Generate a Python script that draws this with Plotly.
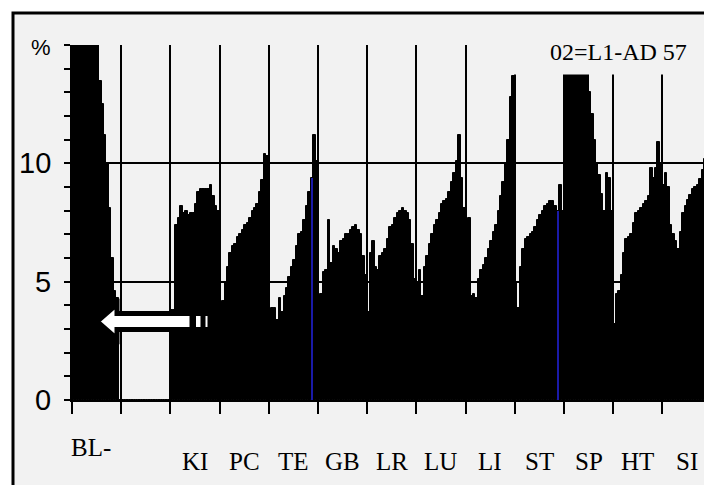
import plotly.graph_objects as go

# ---- data (percent per bar, 20 bars per category) ----
categories = ["BL-", "", "KI", "PC", "TE", "GB", "LR", "LU", "LI", "ST", "SP", "HT", "SI"]

bl = [15, 15, 15, 15, 15, 15, 15, 15, 15, 15, 15, 13.5, 12.5, 11.2, 10.0, 8.1, 6.0, 4.6, 4.3, 0]
blank = [0] * 20
ki = [3.8, 3.8, 7.4, 7.7, 8.2, 7.9, 8.0, 7.8, 7.9, 7.9, 8.3, 8.8, 8.9, 8.9, 8.9, 8.9, 9.1, 8.6, 8.2, 8.0]
pc = [3.7, 4.2, 5.0, 5.6, 6.2, 6.5, 6.6, 6.9, 7.0, 7.2, 7.4, 7.5, 7.7, 8.0, 8.1, 8.3, 8.8, 9.3, 10.4, 10.3]
te = [3.3, 3.9, 3.9, 3.4, 4.3, 3.7, 4.4, 4.75, 5.2, 5.6, 5.9, 6.5, 7.0, 7.1, 7.6, 8.2, 8.8, 9.4, 11.2, 10.1]
gb = [3.7, 4.5, 5.4, 5.5, 7.6, 5.8, 6.5, 6.4, 6.2, 6.7, 6.8, 7.0, 7.0, 7.2, 7.3, 7.4, 7.2, 7.0, 6.1, 5.3]
lr = [3.7, 6.2, 6.7, 5.6, 5.5, 6.1, 6.2, 6.4, 6.8, 7.3, 7.4, 7.7, 7.9, 8.0, 8.1, 8.0, 7.9, 7.6, 6.6, 5.1]
lu = [4.9, 5.5, 4.4, 5.6, 6.1, 6.6, 7.0, 7.4, 7.6, 7.9, 8.3, 8.4, 8.5, 8.8, 9.2, 9.6, 10.1, 11.2, 9.4, 8.1]
li = [2.8, 7.7, 4.4, 4.5, 4.3, 5.1, 5.5, 5.7, 6.0, 6.4, 6.7, 7.1, 7.4, 8.0, 8.6, 9.2, 10.0, 11.0, 12.8, 13.7]
st = [5.0, 3.9, 5.6, 6.4, 6.8, 6.9, 7.0, 7.1, 7.3, 7.6, 7.8, 8.0, 8.2, 8.3, 8.4, 8.4, 8.2, 8.0, 9.1, 8.0]
sp = [15, 15, 15, 15, 15, 15, 15, 15, 15, 15, 13.0, 12.1, 11.0, 10.0, 9.5, 8.7, 8.0, 9.6, 9.4, 8.0]
ht = [3.2, 4.5, 4.6, 5.3, 6.2, 6.8, 6.9, 7.0, 7.5, 7.9, 8.0, 8.1, 8.3, 8.4, 8.6, 9.8, 9.4, 9.8, 10.9, 10.0]
si = [9.1, 9.6, 9.0, 7.4, 7.0, 6.7, 6.4, 7.1, 7.9, 8.2, 8.45, 8.65, 8.9, 9.0, 9.1, 9.35, 9.7, 10.2, 10.6, 11.0]

groups = [bl, blank, ki, pc, te, gb, lr, lu, li, st, sp, ht, si]
highlighted = {"TE": 17, "ST": 17}   # bar index drawn with a thin blue line

y_ticks = [0, 5, 10, 15]
y_ticktext = ["0", "5", "10", "%"]
title_text = "02=L1-AD 57"

N = 20
xs, ys = [], []
for gi, vals in enumerate(groups):
    for j, v in enumerate(vals):
        xs.append(gi + (j + 0.5) / N)
        ys.append(v)

hx, hy = [], []
for name, j in highlighted.items():
    gi = categories.index(name)
    hx.append(gi + (j + 0.5) / N)
    hy.append(groups[gi][j])

fig = go.Figure()
fig.add_trace(go.Bar(x=xs, y=ys, width=1.0 / N, marker=dict(color="black", line=dict(width=1, color="black")),
                     showlegend=False, hoverinfo="skip"))
fig.add_trace(go.Bar(x=hx, y=hy, width=0.022, marker=dict(color="#1a1aa8", line=dict(width=0)),
                     showlegend=False, hoverinfo="skip"))

W, H = 704, 485
ML, MT = 72, 45
PLOT_BOTTOM = 400
MB = H - PLOT_BOTTOM
PW, PH = W - ML, PLOT_BOTTOM - MT
XMAX = 12.846


def px2paper_x(px):
    return (px - ML) / PW


def py2paper_y(py):
    return (PLOT_BOTTOM - py) / PH


cat_w = PW / XMAX


def px2x(px):
    return (px - ML) / cat_w


def py2y(py):
    return (PLOT_BOTTOM - py) / (PH / 15.0)


shapes = []
# outer frame
shapes.append(dict(type="rect", xref="paper", yref="paper", layer="below",
                   x0=px2paper_x(13), x1=1.2, y0=-0.5, y1=py2paper_y(13),
                   fillcolor="#f2f2f2", line=dict(color="black", width=3)))
# label box (covers top right)
shapes.append(dict(type="rect", xref="paper", yref="paper", layer="above",
                   x0=px2paper_x(511), x1=1.05, y0=py2paper_y(74.5), y1=py2paper_y(15.5),
                   fillcolor="#f2f2f2", line=dict(width=0)))
# white arrow
pts = [(97, 321.5), (117, 304), (117, 313.5), (192, 313.5), (192, 329.5), (117, 329.5), (117, 339)]
path = "M " + " L ".join(f"{px2x(a):.4f},{py2y(b):.4f}" for a, b in pts) + " Z"
shapes.append(dict(type="path", xref="x", yref="y", layer="above", path=path,
                   fillcolor="white", line=dict(color="black", width=5)))
for a, b in [(196, 200.5), (205.5, 207.5)]:
    shapes.append(dict(type="rect", xref="x", yref="y", layer="above",
                       x0=px2x(a), x1=px2x(b), y0=py2y(327), y1=py2y(316),
                       fillcolor="white", line=dict(width=0)))

annotations = []
for i, c in enumerate(categories):
    if not c:
        continue
    if i == 0:
        annotations.append(dict(x=i + 0.5, y=py2paper_y(447), xref="x", yref="paper", text=c, showarrow=False,
                                xshift=-6, xanchor="center", yanchor="middle",
                                font=dict(family="Liberation Serif", size=25, color="black")))
    else:
        annotations.append(dict(x=i + 0.5, y=py2paper_y(461), xref="x", yref="paper", text=c, showarrow=False,
                                xanchor="center", yanchor="middle",
                                font=dict(family="Liberation Serif", size=25, color="black")))
annotations.append(dict(x=px2paper_x(618), y=py2paper_y(52), xref="paper", yref="paper", text=title_text,
                        showarrow=False, xanchor="center", yanchor="middle",
                        font=dict(family="Liberation Serif", size=24, color="black")))
# y tick labels (right edge at x=52px)
for v, t in zip(y_ticks, y_ticktext):
    is_pct = t == "%"
    annotations.append(dict(x=px2paper_x(53), y=v, xref="paper", yref="y", text=t, showarrow=False,
                            xanchor="right", yanchor="middle", yshift=-2 if is_pct else 0,
                            font=dict(family="Liberation Sans", size=22 if is_pct else 29, color="black")))

fig.update_layout(
    width=W, height=H, autosize=False,
    margin=dict(l=ML, r=0, t=MT, b=MB, pad=0),
    paper_bgcolor="white", plot_bgcolor="rgba(0,0,0,0)",
    barmode="overlay", bargap=0,
    shapes=shapes, annotations=annotations,
    xaxis=dict(range=[0, XMAX], tickmode="array", tickvals=list(range(13)), showticklabels=False,
               ticks="outside", ticklen=12, tickwidth=2, tickcolor="black",
               showgrid=True, gridcolor="black", gridwidth=2,
               showline=True, linecolor="black", linewidth=2, zeroline=False, fixedrange=True),
    yaxis=dict(range=[0, 15], tickmode="array", tickvals=y_ticks, showticklabels=False,
               ticks="outside", ticklen=6, tickwidth=2, tickcolor="black",
               minor=dict(dtick=1, ticks="outside", ticklen=6, tickwidth=2, tickcolor="black", showgrid=False),
               showgrid=True, gridcolor="black", gridwidth=2,
               showline=True, linecolor="black", linewidth=2, zeroline=False, fixedrange=True),
)

fig.write_html("out.html", config={"displayModeBar": False},
               post_script="document.body.style.margin='0';document.body.style.overflow='hidden';")
